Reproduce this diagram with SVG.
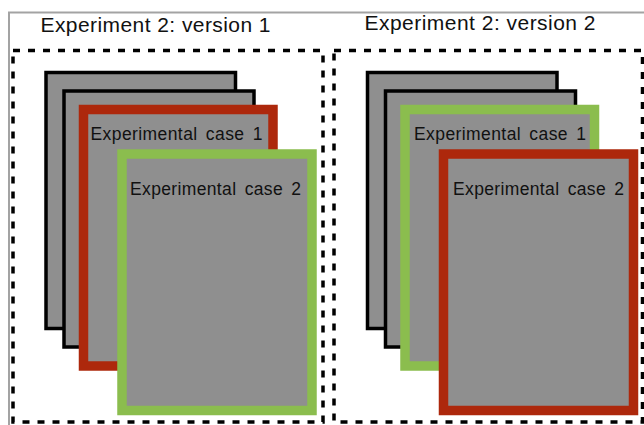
<svg xmlns="http://www.w3.org/2000/svg" width="644" height="425" viewBox="0 0 644 425">
<style>
.frame{fill:none;stroke:#a3a3a3;stroke-width:2}
.dash{fill:none;stroke:#000;stroke-width:3.5;stroke-dasharray:7 8}
.blk{fill:#8f8f8f;stroke:#000;stroke-width:3.5}
.red{fill:#8f8f8f;stroke:#ad280c;stroke-width:9.5}
.grn{fill:#8f8f8f;stroke:#8bbd4e;stroke-width:9.5}
.title{font-family:"Liberation Sans",Arial,sans-serif;font-size:21px;fill:#111}
.lbl{font-family:"Liberation Sans",Arial,sans-serif;font-size:17.5px;fill:#111;word-spacing:3px}
</style>
<g id="frame">
<path class="frame" d="M9,425 V12.5 H644"/>
</g>
<g id="version1">
<rect class="dash" x="13" y="50.5" width="310" height="371.5"/>
<text class="title" x="40.5" y="31.5" textLength="230" lengthAdjust="spacing">Experiment 2: version 1</text>
<g id="v1-sheet1"><rect class="blk" x="46" y="72.5" width="189.5" height="256"/></g>
<g id="v1-sheet2"><rect class="blk" x="64" y="91" width="190" height="256"/></g>
<g id="v1-case1"><rect class="red" x="83.5" y="109.5" width="189.5" height="256.5"/>
<text class="lbl" x="90.5" y="140" textLength="172" lengthAdjust="spacing">Experimental case 1</text></g>
<g id="v1-case2"><rect class="grn" x="122" y="154" width="190" height="256.5"/>
<text class="lbl" x="130" y="195" textLength="171" lengthAdjust="spacing">Experimental case 2</text></g>
</g>
<g id="version2">
<rect class="dash" x="334" y="50.5" width="308.5" height="371.5"/>
<text class="title" x="364.5" y="29.5" textLength="231" lengthAdjust="spacing">Experiment 2: version 2</text>
<g id="v2-sheet1"><rect class="blk" x="367.5" y="72.5" width="189.5" height="256"/></g>
<g id="v2-sheet2"><rect class="blk" x="385.5" y="91" width="190" height="256"/></g>
<g id="v2-case1"><rect class="grn" x="405" y="109.5" width="189.5" height="256.5"/>
<text class="lbl" x="414" y="140" textLength="172" lengthAdjust="spacing">Experimental case 1</text></g>
<g id="v2-case2"><rect class="red" x="443.5" y="154" width="190" height="256.5"/>
<text class="lbl" x="453" y="195" textLength="171" lengthAdjust="spacing">Experimental case 2</text></g>
</g>
<g id="connectors"/>
</svg>
